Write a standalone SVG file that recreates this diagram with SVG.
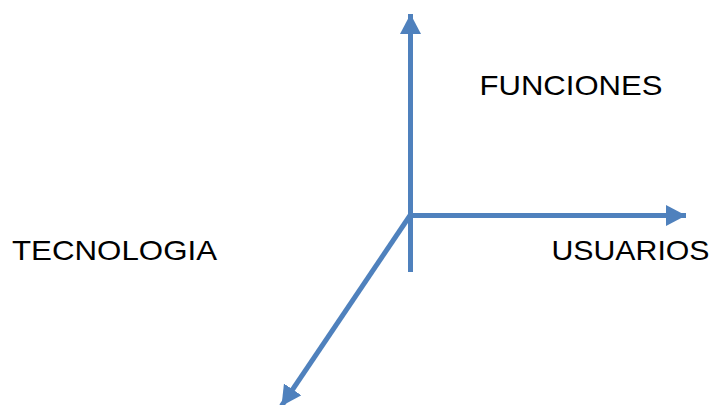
<svg xmlns="http://www.w3.org/2000/svg" width="713" height="405" viewBox="0 0 713 405">
<style>
.ax{stroke:#4F81BD;stroke-width:5;fill:none}
.lbl{font-family:"Liberation Sans",Arial,sans-serif;font-size:28.5px;fill:#000}
</style>
<defs>
<marker id="ah" markerUnits="userSpaceOnUse" markerWidth="22" markerHeight="22" refX="20" refY="10.5" orient="auto">
<path d="M0,0 L20,10.5 L0,21 Z" fill="#4F81BD"/>
</marker>
</defs>
<rect width="713" height="405" fill="#fff"/>
<g id="connectors">
<line class="ax" x1="410.5" y1="272" x2="410.5" y2="14" marker-end="url(#ah)"/>
<line class="ax" x1="410" y1="215.5" x2="686" y2="215.5" marker-end="url(#ah)"/>
<line class="ax" x1="411" y1="214" x2="281.5" y2="406" marker-end="url(#ah)"/>
</g>
<g id="funciones"><text class="lbl" x="479.5" y="95" textLength="183" lengthAdjust="spacingAndGlyphs">FUNCIONES</text></g>
<g id="tecnologia"><text class="lbl" x="12" y="260" textLength="205" lengthAdjust="spacingAndGlyphs">TECNOLOGIA</text></g>
<g id="usuarios"><text class="lbl" x="551.5" y="260" textLength="158" lengthAdjust="spacingAndGlyphs">USUARIOS</text></g>
</svg>
